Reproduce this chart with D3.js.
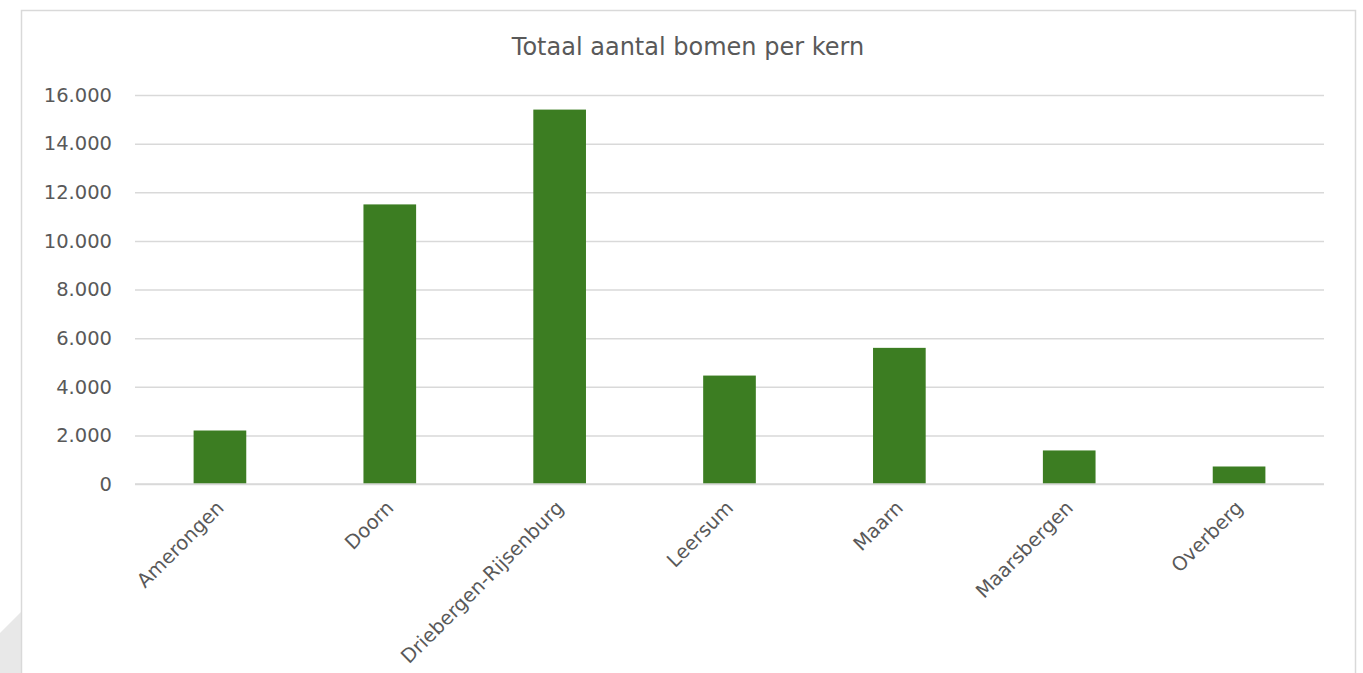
<!DOCTYPE html>
<html><head><meta charset="utf-8">
<script src="https://cdn.jsdelivr.net/npm/d3@7/dist/d3.min.js"></script>
<style>
html,body{margin:0;padding:0;background:#fff;overflow:hidden;}
text{font-family:"DejaVu Sans",sans-serif;fill:#595959;}
</style></head><body>
<svg id="c" width="1363" height="673"></svg>
<script>
const categories = ["Amerongen","Doorn","Driebergen-Rijsenburg","Leersum","Maarn","Maarsbergen","Overberg"];
const values = [2200, 11500, 15400, 4460, 5600, 1380, 720];
const yTicks = [0,2000,4000,6000,8000,10000,12000,14000,16000];
const title = "Totaal aantal bomen per kern";

const svg = d3.select("#c");
const m = {left:135, right:1324, top:95, bottom:484};

// UI artifact + chart frame
svg.append("polygon").attr("points","21,612 0,633 0,673 21,673").attr("fill","#e8e8e8");
svg.append("rect").attr("x",21.5).attr("y",10.5).attr("width",1334).attr("height",700)
  .attr("fill","#fff").attr("stroke","#d9d9d9").attr("stroke-width",1.5);

const x = d3.scaleBand().domain(categories).range([m.left,m.right]).paddingInner(0.69).paddingOuter(0.345);
const y = d3.scaleLinear().domain([0,16000]).range([m.bottom,m.top]);

const fmt = d => d3.format(",")(d).replace(/,/g,".");

const gy = svg.append("g").attr("transform",`translate(${m.left},0)`)
  .call(d3.axisLeft(y).tickValues(yTicks).tickSize(-(m.right-m.left)).tickFormat(fmt).tickPadding(23));
gy.select(".domain").remove();
gy.selectAll(".tick line").attr("stroke","#d9d9d9").attr("stroke-width",1.5);
gy.selectAll(".tick text").attr("font-size",19.5).attr("fill","#595959");

svg.append("g").selectAll("rect").data(values).join("rect")
  .attr("x",(d,i)=>x(categories[i]))
  .attr("width",x.bandwidth())
  .attr("y",d=>y(d))
  .attr("height",d=>y(0)-y(d))
  .attr("fill","#3c7d22");

svg.append("line").attr("x1",m.left).attr("x2",m.right).attr("y1",y(0)).attr("y2",y(0))
  .attr("stroke","#d9d9d9").attr("stroke-width",1.5);

const gx = svg.append("g").attr("transform",`translate(0,${m.bottom})`)
  .call(d3.axisBottom(x).tickSize(0).tickPadding(0));
gx.select(".domain").remove();
gx.selectAll(".tick text")
  .attr("font-size",19.5).attr("fill","#595959")
  .attr("text-anchor","end")
  .attr("dy",0)
  .attr("transform","translate(5,25) rotate(-45)")
  .attr("y",0).attr("x",0);

svg.append("text").attr("x",688).attr("y",55).attr("text-anchor","middle")
  .attr("font-size",24).text(title);
</script>
</body></html>
